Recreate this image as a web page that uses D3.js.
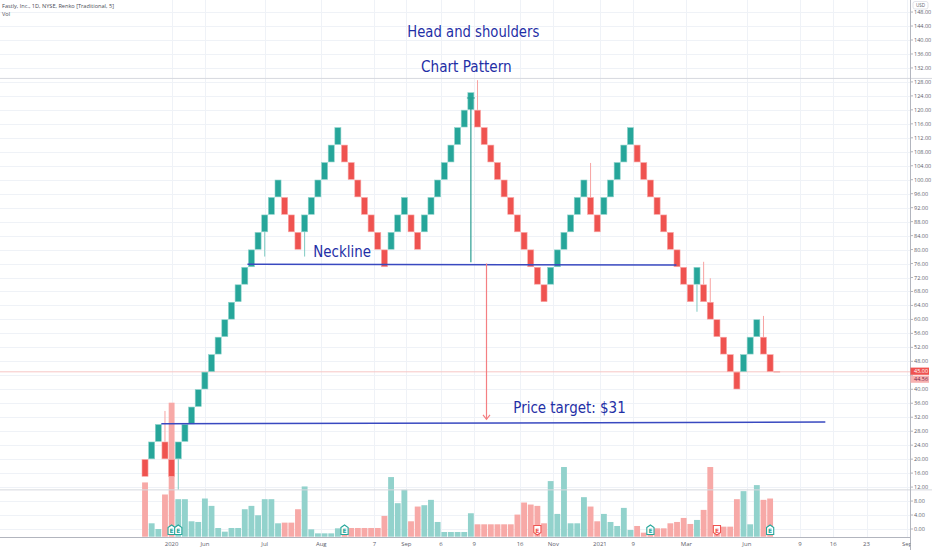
<!DOCTYPE html>
<html><head><meta charset="utf-8">
<script src="https://cdn.jsdelivr.net/npm/d3@7"></script>
<style>
html,body{margin:0;padding:0;background:#fff;}
svg{display:block;}
</style>
</head><body>
<svg id="chart" width="932" height="550"></svg>
<script>
// ---- DATA ----
const brickOpen  = [20,20,25,25,20,20,25,30,35,40,45,50,55,60,65,70,75,80,85,90,95,95,90,85,85,90,95,100,105,110,110,105,100,95,90,85,80,80,85,90,90,85,85,90,95,100,105,110,115,120,120,115,110,105,100,95,90,85,80,75,70,70,75,80,85,90,95,95,90,90,95,100,105,110,110,105,100,95,90,85,80,75,70,70,70,65,60,55,50,45,45,50,55,55,50];
const brickClose = [15,25,30,20,15,25,30,35,40,45,50,55,60,65,70,75,80,85,90,95,100,90,85,80,90,95,100,105,110,115,105,100,95,90,85,80,75,85,90,95,85,80,90,95,100,105,110,115,120,125,115,110,105,100,95,90,85,80,75,70,65,75,80,85,90,95,100,90,85,95,100,105,110,115,105,100,95,90,85,80,75,70,65,75,65,60,55,50,45,40,50,55,60,50,45];
const volume = [8.1,2.0,1.15,6.3,20.0,5.6,5.6,2.3,2.2,5.7,4.6,1.3,0.75,1.3,1.3,4.1,4.6,3.2,5.6,5.6,2.0,2.1,2.1,4.1,7.5,1.1,0.5,0.5,0.5,1.25,1.25,1.3,1.3,1.3,1.3,1.3,3.1,8.9,5.0,7.0,2.3,4.5,4.7,5.5,2.2,0.7,0.7,0.7,0.7,3.5,1.85,1.85,1.85,1.85,1.85,1.85,3.3,5.1,4.8,4.6,2.0,8.3,3.4,10.4,2.0,2.0,5.9,4.5,2.3,3.4,2.2,1.6,4.3,1.0,1.6,0.6,0.9,1.25,1.25,2.0,2.2,2.8,1.9,2.5,4.0,10.4,1.5,1.5,1.5,5.6,6.8,1.85,7.7,5.5,5.7];
// wicks: brick index and price reached by the wick
const wickIndex = [3,5,18,24,50,67,83,84,85,93];
const wickPrice = [33.8,11.2,78,78,128.5,104.8,62.2,76.5,71.8,61];
// earnings markers
const earnIndex = [4,5,30,59,76,86,94];
const earnColor = ["g","g","g","r","g","r","g"];
// time axis (brick index positions) and labels
const dateTickPos = [4,9,18,26.5,34.5,39.3,44.5,49.5,56.4,61.4,68.4,73.4,81.4,90.5,98.5,103.5,108.5,114.6];
const dateTickLabel = ["2020","Jun","Jul","Aug","7","Sep","6","9","16","Nov","2021","9","Mar","Jun","9","16","23","Sep"];
// price axis labels
const priceTicks = d3.range(0, 149, 4);
// annotation lines [index1, price1, index2, price2]
const necklineLine = [15.4, 75.8, 79.9, 75.6];
const targetLine = [2.45, 30.1, 102.3, 30.6];
const headLine = [49, 123.4, 49, 76.4];
const arrowLine = [51.35, 76, 51.35, 31.4];
const highLowPrices = [129.0, 11.2];
const lastPrice = 45.00, lastClose = 44.56;

// ---- SCALES ----
const svg = d3.select("#chart");
const W = 932, H = 550, axisX = 910.5;
const n = brickOpen.length;
const x = d3.scaleLinear().domain([0, n]).range([141.7, 141.7 + 6.65 * n]);
const y = d3.scaleLinear().domain([0, 140]).range([529, 40]);
const yv = d3.scaleLinear().domain([0, 20]).range([536.7, 402.7]);
const GREEN = "#26a69a", RED = "#ef5350";
const VGREEN = "#92d2cc", VRED = "#f7a9a7";
const TXT = "#1f2fa6";
const AXF = "'Open Sans',sans-serif", AXS = 5.5;

const defs = svg.append("defs");
defs.append("clipPath").attr("id","plot")
  .append("rect").attr("x",0).attr("y",0).attr("width",axisX).attr("height",537);
defs.append("clipPath").attr("id","timeclip")
  .append("rect").attr("x",0).attr("y",537).attr("width",axisX).attr("height",13);

const plot = svg.append("g").attr("clip-path","url(#plot)");

// grid
plot.append("g").selectAll("line").data(priceTicks).join("line")
  .attr("x1",0).attr("x2",axisX).attr("y1",d=>Math.round(y(d))+0.5).attr("y2",d=>Math.round(y(d))+0.5)
  .attr("stroke","#eff2f7").attr("stroke-width",1);
plot.append("g").selectAll("line").data(dateTickPos).join("line")
  .attr("x1",d=>Math.round(x(d+0.5))+0.5).attr("x2",d=>Math.round(x(d+0.5))+0.5).attr("y1",0).attr("y2",537)
  .attr("stroke","#eff2f7").attr("stroke-width",1);

// high/low lines
svg.append("g").selectAll("line").data(highLowPrices).join("line")
  .attr("x1",0).attr("x2",W).attr("y1",d=>y(d)).attr("y2",d=>y(d))
  .attr("stroke","#d6d8de").attr("stroke-width",1);

// last price line
plot.append("line").attr("x1",0).attr("x2",axisX).attr("y1",y(lastPrice)).attr("y2",y(lastPrice))
  .attr("stroke","#f7c6c5").attr("stroke-width",1);

// volume
plot.append("g").selectAll("rect").data(volume).join("rect")
  .attr("x",(d,i)=>x(i)+0.4).attr("width",6.65-0.8)
  .attr("y",d=>yv(d)).attr("height",d=>yv(0)-yv(d))
  .attr("fill",(d,i)=>brickClose[i]>brickOpen[i]?VGREEN:VRED);

// earnings markers
const em = plot.append("g").selectAll("g").data(earnIndex).join("g")
  .attr("transform",d=>`translate(${x(d+0.5)},530)`);
em.append("path")
  .attr("d",(d,i)=>earnColor[i]==="g"
    ? "M-3.6,-2.5 L0,-5 L3.6,-2.5 L3.6,4.5 L-3.6,4.5 Z"
    : "M-3.6,-4.5 L3.6,-4.5 L3.6,2.5 L0,5 L-3.6,2.5 Z")
  .attr("fill","#fff").attr("stroke",(d,i)=>earnColor[i]==="g"?GREEN:RED).attr("stroke-width",1.1);
em.append("text").text("E").attr("text-anchor","middle").attr("y",2.6)
  .attr("font-family","DejaVu Sans").attr("font-size",6).attr("font-weight","bold")
  .attr("fill",(d,i)=>earnColor[i]==="g"?GREEN:RED);

// wicks
plot.append("g").selectAll("line").data(wickIndex).join("line")
  .attr("x1",d=>x(d+0.5)).attr("x2",d=>x(d+0.5))
  .attr("y1",(d,i)=>y(wickPrice[i]))
  .attr("y2",(d,i)=>{const o=brickOpen[d],c=brickClose[d];return y(wickPrice[i]>Math.max(o,c)?Math.max(o,c):Math.min(o,c));})
  .attr("stroke",d=>brickClose[d]>brickOpen[d]?"#7fcbc3":"#f7a3a2").attr("stroke-width",1);

// bricks
plot.append("g").selectAll("rect").data(brickOpen).join("rect")
  .attr("x",(d,i)=>x(i)+0.3).attr("width",6.65-0.6)
  .attr("y",(d,i)=>y(Math.max(d,brickClose[i]))+0.3)
  .attr("height",(d,i)=>Math.abs(y(d)-y(brickClose[i]))-0.6)
  .attr("fill",(d,i)=>brickClose[i]>d?GREEN:RED)
  .attr("stroke",(d,i)=>brickClose[i]>d?"#8fd3cb":"#f8a9a8").attr("stroke-width",0.6);

// last price dash
plot.append("line").attr("x1",x(n)).attr("x2",x(n)+6.65).attr("y1",y(lastPrice)).attr("y2",y(lastPrice))
  .attr("stroke","#f4a3a2").attr("stroke-width",1.2);

// annotation lines
function seg(a, color, w){
  return plot.append("line").attr("x1",x(a[0]+0.5)).attr("y1",y(a[1])).attr("x2",x(a[2]+0.5)).attr("y2",y(a[3]))
    .attr("stroke",color).attr("stroke-width",w);
}
seg(necklineLine,"#3949c0",1.5);
seg(targetLine,"#3949c0",1.5);
seg(headLine,"#2a9d91",1.2);
plot.append("line").attr("x1",x(headLine[0]+0.5)-4).attr("x2",x(headLine[0]+0.5)+4)
  .attr("y1",y(headLine[1])).attr("y2",y(headLine[1])).attr("stroke","#2a9d91").attr("stroke-width",1);
seg(arrowLine,"#f47f82",1.2);
const ax = x(arrowLine[0]+0.5), ay = y(arrowLine[3]);
plot.append("path").attr("d",`M${ax-3.5},${ay-4.5} L${ax},${ay} L${ax+3.5},${ay-4.5}`)
  .attr("fill","none").attr("stroke","#f47f82").attr("stroke-width",1.2);

// annotation texts
const notes = [
  {t:"Head and shoulders", x:407.3, y:36.7, w:132},
  {t:"Chart Pattern", x:421, y:72.3, w:90.7},
  {t:"Neckline", x:313.3, y:256.7, w:57.7},
  {t:"Price target: $31", x:513.3, y:413.3, w:112.4}
];
svg.append("g").selectAll("text").data(notes).join("text")
  .attr("x",d=>d.x).attr("y",d=>d.y).text(d=>d.t)
  .attr("textLength",d=>d.w).attr("lengthAdjust","spacingAndGlyphs")
  .attr("font-family","'DejaVu Sans Condensed','DejaVu Sans',sans-serif").attr("font-size",16.5)
  .attr("fill",TXT);

// axes lines
svg.append("line").attr("x1",0).attr("x2",axisX).attr("y1",537.5).attr("y2",537.5).attr("stroke","#b2b5be");
svg.append("line").attr("x1",axisX).attr("x2",axisX).attr("y1",0).attr("y2",H).attr("stroke","#b2b5be");

// price axis (labels hidden where the last-price badges cover them)
const pa = svg.append("g");
pa.selectAll("line").data(priceTicks).join("line")
  .attr("x1",axisX).attr("x2",axisX+2.5).attr("y1",d=>y(d)).attr("y2",d=>y(d)).attr("stroke","#b2b5be");
const badgeTop = 367.6, badgeBottom = 382.8;
pa.selectAll("text").data(priceTicks.filter(d=>y(d)+3 < badgeTop || y(d)-3 > badgeBottom)).join("text")
  .attr("x",914).attr("y",d=>y(d)+2).text(d=>d3.format(".2f")(d))
  .attr("font-family",AXF).attr("font-size",AXS).attr("fill","#5d606b");

// USD label
svg.append("rect").attr("x",913).attr("y",1.5).attr("width",15).attr("height",7.5).attr("rx",2)
  .attr("fill","#fff").attr("stroke","#d1d4dc").attr("stroke-width",0.6);
svg.append("text").attr("x",920.5).attr("y",7.2).attr("text-anchor","middle").text("USD")
  .attr("font-family",AXF).attr("font-size",4.6).attr("fill","#5d606b");

// last price badges
svg.append("rect").attr("x",axisX).attr("y",badgeTop).attr("width",18.5).attr("height",7.2).attr("fill",RED);
svg.append("text").attr("x",914).attr("y",373.3).text(d3.format(".2f")(lastPrice))
  .attr("font-family",AXF).attr("font-size",AXS).attr("fill","#fff");
svg.append("rect").attr("x",axisX).attr("y",375.6).attr("width",18.5).attr("height",7.2).attr("fill","#f7b1b0");
svg.append("text").attr("x",914).attr("y",381.3).text(d3.format(".2f")(lastClose))
  .attr("font-family",AXF).attr("font-size",AXS).attr("fill","#7a1f45");

// time axis labels
const ta = svg.append("g").attr("clip-path","url(#timeclip)");
ta.selectAll("text").data(dateTickPos).join("text")
  .attr("x",d=>x(d+0.5)).attr("y",545.5).attr("text-anchor","middle").text((d,i)=>dateTickLabel[i])
  .attr("font-family",AXF).attr("font-size",6).attr("fill","#5d606b");

// legend
svg.append("text").attr("x",2).attr("y",8).text("Fastly, Inc., 1D, NYSE, Renko [Traditional, 5]")
  .attr("font-family",AXF).attr("font-size",5.6).attr("fill","#4a4d57");
svg.append("text").attr("x",2).attr("y",16).text("Vol")
  .attr("font-family",AXF).attr("font-size",5.6).attr("fill","#4a4d57");
</script>
</body></html>
